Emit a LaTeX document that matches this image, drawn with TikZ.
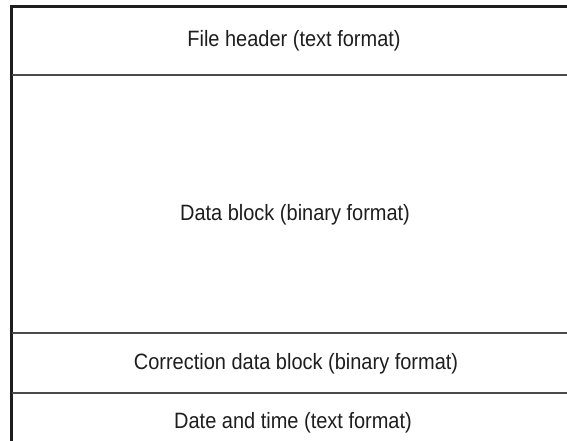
\documentclass[tikz,border=0pt]{standalone}
\usepackage{fontspec}
\setmainfont[FakeStretch=0.9]{Liberation Sans}
\usepackage{xcolor}
\usepackage{tikz}
\usetikzlibrary{positioning,calc}
\definecolor{FLInk}   {HTML}{1E1E1E}
\definecolor{FLRule}  {HTML}{4A4A4A}

\begin{document}
\begin{tikzpicture}[x=1pt,y=-1pt,
    outer/.style={draw=FLInk,line width=2.2pt},
    divider/.style={draw=FLRule,line width=1.4pt},
    blocklbl/.style={font=\fontsize{22.2}{25}\selectfont,text=FLInk,anchor=base,inner sep=0pt}]
    \useasboundingbox (0,0) rectangle (567,441);
    % outer frame, open on right and bottom
    \coordinate (tl) at (11.5,6.5);
    \coordinate (tr) at (570,6.5);
    \coordinate (bl) at (11.5,445);
    \draw[outer] (tr) -- (tl) -- (bl);
    % dividers between the blocks
    \foreach \y/\nm in {75/dA,333/dB,393/dC}{
      \coordinate (\nm l) at (11.5,\y);
      \coordinate (\nm r) at (570,\y);
      \draw[divider] (\nm l) -- (\nm r);
    }
    % block labels
    \node[blocklbl] (hdr)  at (294,47)  {File header (text format)};
    \node[blocklbl] (data) at (295,220) {Data block (binary format)};
    \node[blocklbl] (corr) at (296,369) {Correction data block (binary format)};
    \node[blocklbl] (date) at (293,428) {Date and time (text format)};
\end{tikzpicture}
\end{document}
